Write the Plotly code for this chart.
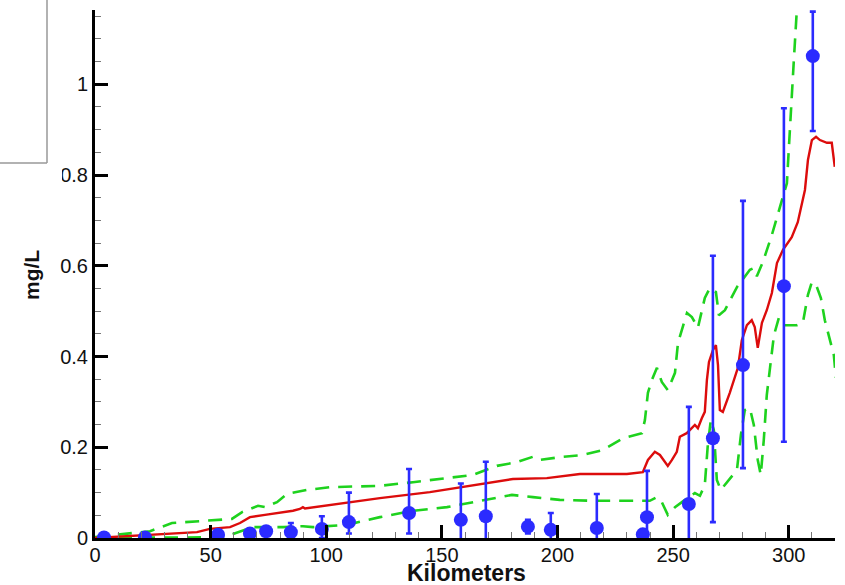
import plotly.graph_objects as go

# --- observed samples with error bounds (km, mg/L) ---
obs_km = [3.9, 21.6, 53.2, 67.0, 74.0, 84.7, 98.1, 109.8, 135.8, 158.2, 169.0,
          187.2, 197.1, 217.0, 236.9, 238.7, 256.8, 267.2, 280.2, 297.9, 310.4]
obs_val = [0.001, 0.001, 0.007, 0.010, 0.015, 0.013, 0.020, 0.035, 0.055, 0.040, 0.048,
           0.025, 0.018, 0.022, 0.008, 0.046, 0.075, 0.220, 0.381, 0.555, 1.062]
obs_hi = [0.001, 0.001, 0.007, 0.010, 0.015, 0.033, 0.048, 0.100, 0.152, 0.120, 0.168,
          0.040, 0.055, 0.097, 0.008, 0.148, 0.289, 0.622, 0.743, 0.947, 1.160]
obs_lo = [0.001, 0.001, 0.007, 0.010, 0.015, 0.000, 0.000, 0.010, 0.010, -0.02, -0.02,
          0.010, -0.01, -0.01, 0.008, -0.02, -0.03, 0.035, 0.154, 0.212, 0.897]

# --- simulated mean concentration ---
sim_km = [0, 6.5, 25.9, 44.1, 49.7, 58.4, 62.7, 67.0, 73.5, 80.0, 85.6, 88.6, 89.9, 90.8,
          101.6, 123.2, 144.8, 166.4, 180.7, 195.4, 209.7, 230.0, 236.9, 239.1, 242.1,
          244.3, 247.7, 249.5, 251.6, 252.9, 255.9, 259.4, 260.7, 262.4, 263.7, 264.6,
          265.5, 267.2, 268.5, 269.4, 270.2, 271.5, 274.5, 278.0, 279.7, 281.9, 284.0,
          285.3, 286.6, 288.4, 290.5, 292.7, 294.9, 297.5, 301.3, 303.9, 306.1, 307.0,
          308.3, 310.0, 311.8, 313.5, 316.5, 318.6, 319.9]
sim_val = [0, 0.002, 0.009, 0.013, 0.020, 0.024, 0.033, 0.046, 0.051, 0.055, 0.060, 0.064,
           0.068, 0.065, 0.073, 0.088, 0.101, 0.119, 0.130, 0.132, 0.141, 0.141, 0.145,
           0.172, 0.190, 0.183, 0.159, 0.172, 0.190, 0.223, 0.231, 0.249, 0.242, 0.264,
           0.278, 0.348, 0.388, 0.414, 0.425, 0.381, 0.282, 0.278, 0.320, 0.375, 0.436,
           0.469, 0.480, 0.465, 0.419, 0.474, 0.502, 0.540, 0.606, 0.635, 0.663, 0.696,
           0.745, 0.767, 0.833, 0.877, 0.884, 0.877, 0.871, 0.871, 0.818]

# --- upper uncertainty bound ---
up_km = [0, 11.7, 23.8, 33.3, 43.2, 59.2, 63.6, 70.5, 73.5, 78.7, 83.0, 91.7, 101.6,
         123.2, 137.5, 152.2, 163.4, 173.8, 182.4, 189.4, 192.4, 202.3, 211.0, 219.6,
         228.3, 236.5, 237.8, 239.1, 240.8, 243.0, 245.1, 247.7, 250.8, 252.1, 253.8,
         256.0, 258.1, 260.7, 263.7, 265.9, 268.5, 269.8, 272.4, 277.6, 283.2, 284.9,
         286.2, 288.8, 292.7, 295.3, 299.2, 300.0, 300.9, 302.2, 303.5, 304.8, 320.0]
up_val = [0.002, 0.009, 0.015, 0.033, 0.037, 0.042, 0.057, 0.071, 0.068, 0.079, 0.097,
          0.106, 0.112, 0.115, 0.123, 0.132, 0.139, 0.159, 0.167, 0.179, 0.172, 0.179,
          0.183, 0.194, 0.220, 0.231, 0.260, 0.320, 0.348, 0.375, 0.344, 0.326, 0.364,
          0.430, 0.458, 0.496, 0.487, 0.463, 0.529, 0.551, 0.542, 0.491, 0.502, 0.553,
          0.591, 0.595, 0.577, 0.608, 0.668, 0.716, 0.782, 0.855, 0.943, 1.053, 1.164,
          1.270, 1.450]

# --- lower uncertainty bound ---
lo_km = [0, 11.7, 40.0, 55.0, 59.7, 68.3, 81.3, 89.9, 94.3, 108.9, 123.2, 137.5, 152.2,
         166.4, 180.3, 189.4, 201.0, 215.3, 231.3, 239.9, 243.0, 245.1, 247.7, 250.8,
         255.1, 259.4, 261.6, 263.7, 265.0, 266.3, 267.6, 268.9, 270.6, 277.6, 279.3,
         281.0, 283.2, 284.9, 286.6, 287.9, 289.2, 290.5, 292.3, 293.6, 295.7, 297.5,
         303.5, 306.1, 308.3, 310.0, 311.8, 313.9, 315.6, 317.8, 319.5, 320.4]
lo_val = [0, 0.001, 0.001, 0.002, 0.009, 0.024, 0.024, 0.026, 0.024, 0.029, 0.046, 0.060,
          0.068, 0.082, 0.095, 0.090, 0.084, 0.082, 0.082, 0.082, 0.090, 0.079, 0.051,
          0.068, 0.084, 0.099, 0.093, 0.117, 0.205, 0.260, 0.238, 0.128, 0.106, 0.150,
          0.227, 0.282, 0.286, 0.249, 0.172, 0.139, 0.216, 0.315, 0.392, 0.447, 0.485,
          0.469, 0.469, 0.474, 0.536, 0.564, 0.558, 0.529, 0.480, 0.436, 0.403, 0.353]

x_ticks = [0, 50, 100, 150, 200, 250, 300]
y_ticks = [0, 0.2, 0.4, 0.6, 0.8, 1]

RED = "#dc0c0c"
GREEN = "#1ed21e"
BLUE = "#2b2bff"

err_plus = [h - v for h, v in zip(obs_hi, obs_val)]
err_minus = [v - l for v, l in zip(obs_val, obs_lo)]

fig = go.Figure()
fig.add_trace(go.Scatter(x=up_km, y=up_val, mode="lines",
                         line=dict(color=GREEN, width=2.6, dash="14px,9px")))
fig.add_trace(go.Scatter(x=lo_km, y=lo_val, mode="lines",
                         line=dict(color=GREEN, width=2.6, dash="14px,9px")))
fig.add_trace(go.Scatter(x=sim_km, y=sim_val, mode="lines",
                         line=dict(color=RED, width=2.4)))
fig.add_trace(go.Scatter(
    x=obs_km, y=obs_val, mode="markers",
    marker=dict(color=BLUE, size=14),
    error_y=dict(type="data", symmetric=False, array=err_plus, arrayminus=err_minus,
                 color=BLUE, thickness=2.6, width=3),
    cliponaxis=True))

W, H = 845, 585
ML, MR, MT, MB = 95, 10, 10, 47
pw, ph = W - ML - MR, H - MT - MB


def px(xp):
    return (xp - ML) / pw


def py(yp):
    return (H - MB - yp) / ph


tick_font = dict(family="Liberation Sans, Arial, sans-serif", size=20, color="#111")

fig.update_layout(
    width=W, height=H, margin=dict(l=ML, r=MR, t=MT, b=MB),
    paper_bgcolor="white", plot_bgcolor="white", showlegend=False,
    xaxis=dict(range=[0, 320], tickvals=x_ticks, ticks="inside", ticklen=13,
               tickwidth=3, tickcolor="black", showline=True, linecolor="black",
               linewidth=3, showgrid=False, zeroline=False, tickfont=tick_font,
               ticklabelstandoff=-3,
               minor=dict(ticks="inside", dtick=10, ticklen=6, tickwidth=1,
                          tickcolor="#777", showgrid=False)),
    yaxis=dict(range=[0, ph / 453.75], tickvals=y_ticks, ticks="inside", ticklen=13,
               tickwidth=3, tickcolor="black", showline=True, linecolor="black",
               linewidth=3, showgrid=False, zeroline=False, tickfont=tick_font,
               minor=dict(ticks="inside", dtick=0.05, ticklen=6, tickwidth=1,
                          tickcolor="#777", showgrid=False)),
    shapes=[
        dict(type="line", xref="paper", yref="paper", layer="above",
             x0=px(0), x1=px(47), y0=py(163), y1=py(163),
             line=dict(color="#999", width=1.5)),
        dict(type="line", xref="paper", yref="paper", layer="above",
             x0=px(47), x1=px(47), y0=py(163), y1=py(0),
             line=dict(color="#999", width=1.5)),
    ],
    annotations=[
        # blank panel that hides the left edge of the 0.8 label
        dict(text=" ", xref="paper", yref="paper", x=px(0), y=py(165),
             xanchor="left", yanchor="top", width=62, height=24,
             bgcolor="white", borderwidth=0, borderpad=0, showarrow=False),
        dict(text="<b>Kilometers</b>", xref="paper", yref="paper",
             x=px(466), y=py(573), xanchor="center", yanchor="middle", showarrow=False,
             font=dict(family="Liberation Sans, Arial, sans-serif", size=23, color="#111")),
        dict(text="<b>mg/L</b>", xref="paper", yref="paper", textangle=-90,
             x=px(31), y=py(275), xanchor="center", yanchor="middle", showarrow=False,
             font=dict(family="Liberation Sans, Arial, sans-serif", size=21, color="#111")),
    ],
)

fig.write_html("out.html")
